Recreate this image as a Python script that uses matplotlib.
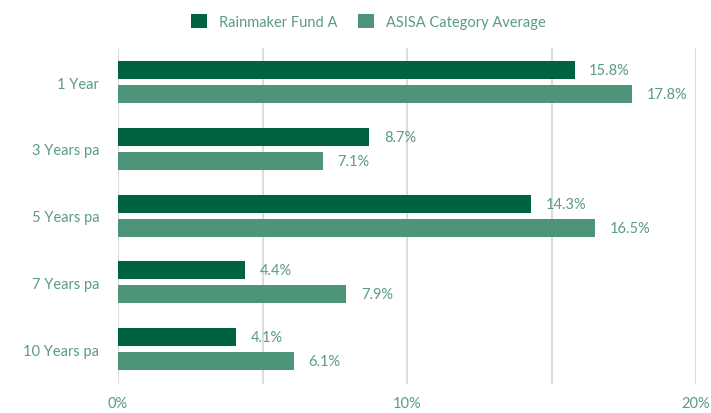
import matplotlib
matplotlib.use("Agg")
import matplotlib.pyplot as plt
import numpy as np

categories = ["1 Year", "3 Years pa", "5 Years pa", "7 Years pa", "10 Years pa"]
fund = [15.8, 8.7, 14.3, 4.4, 4.1]
category_avg = [17.8, 7.1, 16.5, 7.9, 6.1]
series_names = ["Rainmaker Fund A", "ASISA Category Average"]

dark = "#00633F"
light = "#4E9478"
txt = "#5A9C82"

plt.rcParams['font.family'] = ['Lato', 'DejaVu Sans']

fig = plt.figure(figsize=(7.11, 4.14), dpi=100)
ax = fig.add_axes([118/711, 1-385/414, (696-118)/711, (385-49)/414])

y = np.arange(len(categories))
h = 0.27
off = 0.18
b1 = ax.barh(y - off, fund, height=h, color=dark, label=series_names[0], zorder=3)
b2 = ax.barh(y + off, category_avg, height=h, color=light, label=series_names[1], zorder=3)

fs = 10.5
for yi, v in zip(y - off, fund):
    ax.text(v + 0.5, yi, f"{v}%", va="center", ha="left", color=txt, fontsize=fs)
for yi, v in zip(y + off, category_avg):
    ax.text(v + 0.5, yi, f"{v}%", va="center", ha="left", color=txt, fontsize=fs)

ax.set_xlim(0, 20)
ax.set_ylim(4.524, -0.51)
ax.set_xticks([0, 5, 10, 15, 20])
ax.set_xticklabels(["0%", "", "10%", "", "20%"])
ax.set_yticks(y)
ax.set_yticklabels(categories)
ax.grid(axis="x", color="#DCDCDC", linewidth=1.5, zorder=0)
for s in ax.spines.values():
    s.set_visible(False)
ax.tick_params(axis="y", length=0, pad=13.5, labelcolor=txt, labelsize=fs)
ax.tick_params(axis="x", length=0, pad=9, labelcolor=txt, labelsize=fs)

leg = fig.legend(handles=[b1, b2], labels=series_names, loc="upper center",
                 bbox_to_anchor=(0.518, 0.995), ncol=2, frameon=False,
                 handlelength=1.1, handleheight=1.1, columnspacing=1.4,
                 handletextpad=0.85, fontsize=fs)
for t in leg.get_texts():
    t.set_color(txt)

fig.savefig("out.png", dpi=100)
